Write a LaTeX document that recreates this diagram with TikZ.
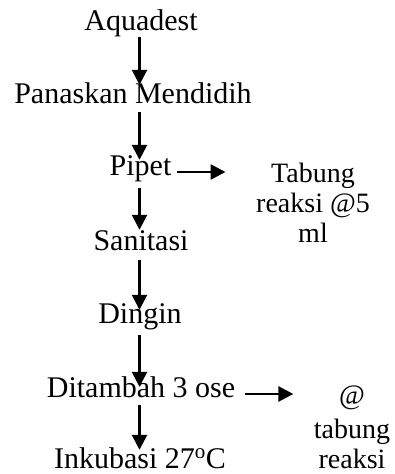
\documentclass[tikz,border=0pt]{standalone}
\usepackage{fontspec}
\newfontfamily\timesfont{Liberation Serif}
\usetikzlibrary{arrows.meta}
\tikzset{
  step node/.style={font=\timesfont\fontsize{30}{34}\selectfont, inner sep=0pt,
    text height=21pt, text depth=7pt, anchor=base},
  side note/.style={font=\timesfont\fontsize{28}{30}\selectfont, inner sep=0pt,
    align=center, anchor=north},
  flow/.style={line width=2.6pt, -{Triangle[width=15pt,length=15pt]}}
}
\begin{document}
\begin{tikzpicture}[x=1pt,y=-1pt]
\useasboundingbox (0,0) rectangle (395,474);
\coordinate (axis) at (139.5,0);

% main sequence of steps
\node[step node] (aqua) at (141,30)  {Aquadest};
\node[step node] (pan)  at (133,103) {Panaskan Mendidih};
\node[step node] (pip)  at (140.5,175) {Pipet};
\node[step node] (san)  at (141,250) {Sanitasi};
\node[step node] (din)  at (140,323) {Dingin};
\node[step node] (dit)  at (141,397) {Ditambah 3 ose};
\node[step node] (ink)  at (140,468) {Inkubasi 27\textsuperscript{o}C};

% side notes
\node[side note] (tab) at (313,163) {Tabung\\reaksi @5\\ml};
\node[side note] (per) at (352,386) {@\\[4pt]tabung\\reaksi};

% vertical connectors
\draw[flow, shorten >=-3pt] (aqua.south -| axis) -- (pan.north -| axis);
\draw[flow, shorten <=2pt, shorten >=-6pt] (pan.south -| axis) -- (pip.north -| axis);
\draw[flow, shorten <=6pt, shorten >=-1pt] (pip.south -| axis) -- (san.north -| axis);
\draw[flow, shorten <=3pt, shorten >=-8pt] (san.south -| axis) -- (din.north -| axis);
\draw[flow, shorten <=5pt, shorten >=-11pt] (din.south -| axis) -- (dit.north -| axis);
\draw[flow, shorten <=1pt, shorten >=-3pt] (dit.south -| axis) -- (ink.north -| axis);

% horizontal connectors toward the notes
\draw[flow] ([shift={(5pt,3pt)}]pip.base east) -- ++(49pt,0pt);
\draw[flow] ([shift={(10pt,3pt)}]dit.base east) -- ++(48pt,0pt);
\end{tikzpicture}
\end{document}
